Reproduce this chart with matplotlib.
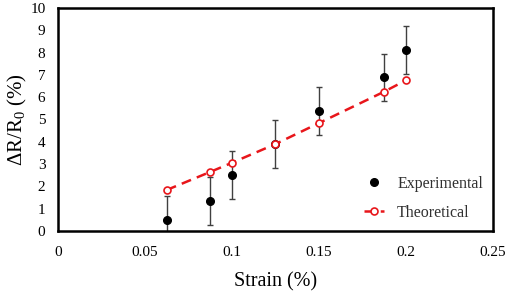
import numpy as np
import matplotlib
matplotlib.use('Agg')
import matplotlib.pyplot as plt

plt.rcParams['font.family'] = ['Liberation Serif', 'DejaVu Serif']

# data
strain = [0.0625, 0.0875, 0.1, 0.125, 0.15, 0.1875, 0.2]
exp_vals = [0.49, 1.35, 2.51, 3.9, 5.38, 6.89, 8.12]
exp_err = [1.09, 1.07, 1.09, 1.09, 1.08, 1.05, 1.09]
theo_vals = [1.84, 2.65, 3.06, 3.9, 4.84, 6.25, 6.76]

xticks = [0, 0.05, 0.1, 0.15, 0.2, 0.25]
xticklabels = ['0', '0.05', '0.1', '0.15', '0.2', '0.25']
yticks = list(range(0, 11))

fig = plt.figure(figsize=(5.10, 2.97), dpi=100)
ax = fig.add_axes([58/510, 1 - 231/297, 435/510, 223/297])

ax.errorbar(strain, exp_vals, yerr=exp_err, fmt='none', ecolor='#404040',
            elinewidth=1.0, capsize=2.5, capthick=1.0, zorder=1)
ax.plot(strain, exp_vals, 'o', color='black', markersize=5.5, zorder=2,
        label='Experimental')
ax.plot(strain, theo_vals, '--', color='#e8161b', linewidth=1.8, dashes=(4, 2.5),
        marker='o', markersize=5, markerfacecolor='white', markeredgecolor='#e8161b',
        markeredgewidth=1.2, zorder=3, label='Theoretical')

ax.set_xlim(0, 0.25)
ax.set_ylim(0, 10)
ax.set_xticks(xticks)
ax.set_xticklabels(xticklabels)
ax.set_yticks(yticks)
ax.tick_params(length=0, labelsize=11)
ax.tick_params(axis='x', pad=11)
ax.tick_params(axis='y', pad=9)
for s in ax.spines.values():
    s.set_linewidth(1.8)

ax.set_xlabel('Strain (%)', fontsize=14.5, labelpad=9)
ax.set_ylabel(r'$\mathregular{\Delta R/R_0}$ (%)', fontsize=15, labelpad=1)

ax.legend(loc='lower right', frameon=False, fontsize=11.5, handlelength=1.3,
          labelspacing=0.85, bbox_to_anchor=(1.01, -0.02), labelcolor='#303030')

plt.savefig('out.png', dpi=100)
plt.close()
